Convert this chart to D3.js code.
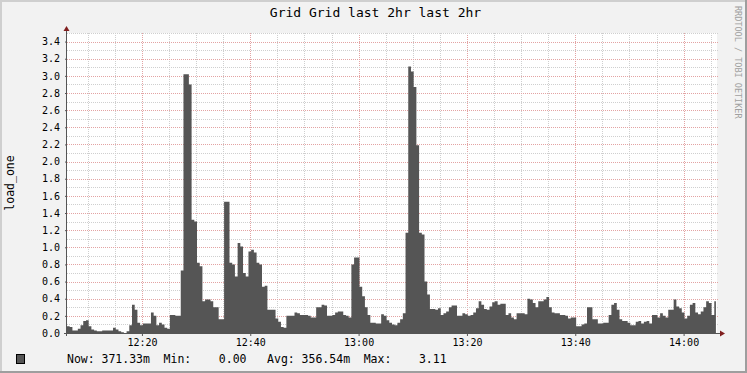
<!DOCTYPE html>
<html>
<head>
<meta charset="utf-8">
<script src="https://cdn.jsdelivr.net/npm/d3@7"></script>
<style>
    body { margin: 0; background: #f2f2f2; }
    svg { display: block; font-family: "DejaVu Sans Mono", monospace; }
</style>
</head>
<body>
<div id="chart"></div>
<script>
// load_one, one sample every 30 s from 12:06:10 to 14:06:10
var loadOne = [
    0.08, 0.07, 0.03, 0.03, 0.05, 0.09, 0.14, 0.15, 0.08, 0.04,
    0.03, 0.02, 0.02, 0.03, 0.03, 0.03, 0.03, 0.06, 0.04, 0.02,
    0.01, 0.00, 0.02, 0.09, 0.33, 0.27, 0.12, 0.09, 0.11, 0.11,
    0.11, 0.24, 0.20, 0.09, 0.12, 0.10, 0.06, 0.05, 0.21, 0.21,
    0.20, 0.20, 0.73, 3.02, 3.02, 2.90, 1.32, 1.30, 0.82, 0.78,
    0.37, 0.39, 0.39, 0.37, 0.30, 0.30, 0.16, 0.16, 1.53, 1.53,
    0.82, 0.80, 0.66, 1.05, 1.01, 0.70, 0.66, 0.95, 0.97, 0.94,
    0.82, 0.80, 0.54, 0.55, 0.27, 0.27, 0.27, 0.17, 0.13, 0.07,
    0.06, 0.20, 0.20, 0.20, 0.24, 0.23, 0.21, 0.21, 0.21, 0.20,
    0.18, 0.18, 0.30, 0.30, 0.33, 0.32, 0.20, 0.20, 0.21, 0.24,
    0.25, 0.25, 0.21, 0.20, 0.18, 0.80, 0.88, 0.88, 0.54, 0.43,
    0.30, 0.21, 0.12, 0.12, 0.11, 0.11, 0.22, 0.20, 0.15, 0.12,
    0.10, 0.09, 0.12, 0.16, 0.23, 1.17, 3.11, 3.05, 2.87, 2.19,
    1.17, 1.15, 0.60, 0.45, 0.28, 0.28, 0.27, 0.29, 0.21, 0.23,
    0.25, 0.30, 0.32, 0.32, 0.20, 0.20, 0.23, 0.22, 0.20, 0.21,
    0.24, 0.29, 0.37, 0.33, 0.28, 0.27, 0.31, 0.36, 0.37, 0.33,
    0.34, 0.34, 0.21, 0.23, 0.18, 0.16, 0.23, 0.23, 0.23, 0.22,
    0.40, 0.39, 0.35, 0.30, 0.37, 0.37, 0.39, 0.42, 0.30, 0.24,
    0.23, 0.23, 0.21, 0.21, 0.20, 0.17, 0.18, 0.18, 0.08, 0.08,
    0.10, 0.11, 0.30, 0.30, 0.16, 0.16, 0.11, 0.11, 0.12, 0.12,
    0.21, 0.33, 0.35, 0.27, 0.16, 0.14, 0.14, 0.12, 0.09, 0.09,
    0.13, 0.14, 0.11, 0.13, 0.14, 0.11, 0.21, 0.21, 0.18, 0.23,
    0.20, 0.18, 0.27, 0.27, 0.39, 0.31, 0.29, 0.24, 0.17, 0.20,
    0.33, 0.35, 0.24, 0.22, 0.25, 0.30, 0.37, 0.35, 0.21, 0.37
];
var stepSeconds = 30;
var startTime = new Date(Date.UTC(2024, 0, 1, 12, 6, 10));
var endTime = new Date(Date.UTC(2024, 0, 1, 14, 6, 10));

var yTicks = [0, 0.2, 0.4, 0.6, 0.8, 1.0, 1.2, 1.4, 1.6, 1.8, 2.0, 2.2, 2.4, 2.6, 2.8, 3.0, 3.2, 3.4];
var yMinor = [0, 0.1, 0.2, 0.3, 0.4, 0.5, 0.6, 0.7, 0.8, 0.9, 1.0, 1.1, 1.2, 1.3, 1.4, 1.5, 1.6, 1.7,
    1.8, 1.9, 2.0, 2.1, 2.2, 2.3, 2.4, 2.5, 2.6, 2.7, 2.8, 2.9, 3.0, 3.1, 3.2, 3.3, 3.4, 3.5];

var legendLabels = ["Now:", "371.33m", "Min:", "0.00", "Avg:", "356.54m", "Max:", "3.11"];
// column (in characters) where each legend item starts
var legendCols = [0, 5, 14, 22, 29, 34, 43, 51];

var W = 747, H = 373;
var margin = { top: 33, right: 30, bottom: 40, left: 67 };
var width = 650;
var height = 300;

var svg = d3.select("#chart").append("svg")
    .attr("width", W)
    .attr("height", H);

// background and 3d frame
svg.append("rect").attr("width", W).attr("height", H).attr("fill", "#f2f2f2");
svg.append("path").attr("d", "M0,0H" + W + "V2H2V" + H + "H0Z").attr("fill", "#cfcfcf");
svg.append("path").attr("d", "M" + W + ",0V" + H + "H0V" + (H - 2) + "H" + (W - 2) + "V0Z").attr("fill", "#9e9e9e");

var g = svg.append("g")
    .attr("transform", "translate(" + margin.left + "," + margin.top + ")");

var x = d3.scaleUtc().domain([startTime, endTime]).range([0, width]);
var y = d3.scaleLinear().domain([0, 3.5]).range([height, 0]);

g.append("rect").attr("width", width).attr("height", height).attr("fill", "#fff");

// grid
var minorTimes = x.ticks(d3.utcMinute.every(5));
g.selectAll(".vgrid").data(minorTimes).enter().append("line")
    .attr("x1", function (d) { return Math.round(x(d)) + 0.5; })
    .attr("x2", function (d) { return Math.round(x(d)) + 0.5; })
    .attr("y1", 0).attr("y2", height)
    .attr("stroke", function (d) { return d.getUTCMinutes() % 20 === 0 ? "#e3a3a3" : "#cfcfcf"; })
    .attr("stroke-dasharray", "1,1");

g.selectAll(".hgrid").data(yMinor).enter().append("line")
    .attr("x1", 0).attr("x2", width + 2)
    .attr("y1", function (d) { return Math.round(y(d)) + 0.5; })
    .attr("y2", function (d) { return Math.round(y(d)) + 0.5; })
    .attr("stroke", function (d) { return Math.round(d * 10) % 2 === 0 ? "#e3a3a3" : "#cfcfcf"; })
    .attr("stroke-dasharray", "1,1");

// area
var points = loadOne.map(function (v, i) {
    return { t: new Date(startTime.getTime() + i * stepSeconds * 1000), v: v };
});
points.push({ t: new Date(startTime.getTime() + (loadOne.length - 0.4) * stepSeconds * 1000), v: loadOne[loadOne.length - 1] });

var area = d3.area()
    .curve(d3.curveStepAfter)
    .x(function (d) { return x(d.t); })
    .y0(y(0))
    .y1(function (d) { return y(d.v); });

g.append("path")
    .datum(points)
    .attr("d", area)
    .attr("fill", "#555555");

// axes
var xAxis = g.append("g")
    .attr("transform", "translate(0," + height + ")")
    .call(d3.axisBottom(x)
        .ticks(d3.utcMinute.every(20))
        .tickFormat(d3.utcFormat("%H:%M"))
        .tickSize(3)
        .tickPadding(3));
xAxis.select(".domain").remove();
xAxis.selectAll("line").attr("stroke", "#555");
xAxis.selectAll("text")
    .attr("font-size", "10px")
    .attr("font-family", "DejaVu Sans Mono")
    .attr("fill", "#000");

var yAxis = g.append("g")
    .call(d3.axisLeft(y)
        .tickValues(yTicks)
        .tickFormat(d3.format(".1f"))
        .tickSize(2)
        .tickPadding(5));
yAxis.select(".domain").remove();
yAxis.selectAll("line").attr("stroke", "#555");
yAxis.selectAll("text")
    .attr("font-size", "10px")
    .attr("font-family", "DejaVu Sans Mono")
    .attr("fill", "#000");

// axis lines with arrows
g.append("line").attr("x1", -3).attr("x2", width + 4).attr("y1", height + 0.5).attr("y2", height + 0.5)
    .attr("stroke", "#555");
g.append("line").attr("x1", -0.5).attr("x2", -0.5).attr("y1", height + 3).attr("y2", -3)
    .attr("stroke", "#555");
g.append("path").attr("d", "M" + (width + 3) + "," + (height - 2.5) + "L" + (width + 8) + "," + (height + 0.5) + "L" + (width + 3) + "," + (height + 3.5) + "Z")
    .attr("fill", "#801f1f");
g.append("path").attr("d", "M-3.5,-2L-0.5,-7L2.5,-2Z")
    .attr("fill", "#801f1f");

// title and labels
svg.append("text")
    .attr("x", W / 2 + 2)
    .attr("y", 17)
    .attr("text-anchor", "middle")
    .attr("font-size", "13px")
    .text("Grid Grid last 2hr last 2hr");

svg.append("text")
    .attr("transform", "translate(14," + (margin.top + height / 2) + ") rotate(-90)")
    .attr("text-anchor", "middle")
    .attr("font-size", "11.5px")
    .text("load_one");

svg.append("text")
    .attr("transform", "translate(735,6) rotate(90)")
    .attr("font-size", "8.5px")
    .attr("fill", "#a0a0a0")
    .text("RRDTOOL / TOBI OETIKER");

// legend
svg.append("rect")
    .attr("x", 16.5).attr("y", 354.5).attr("width", 8).attr("height", 9)
    .attr("fill", "#555555").attr("stroke", "#000");

var charW = 6.9;
svg.selectAll(".legend").data(legendLabels).enter().append("text")
    .attr("class", "legend")
    .attr("x", function (d, i) { return 67 + legendCols[i] * charW; })
    .attr("y", 363)
    .attr("font-size", "11.5px")
    .text(function (d) { return d; });
</script>
</body>
</html>
